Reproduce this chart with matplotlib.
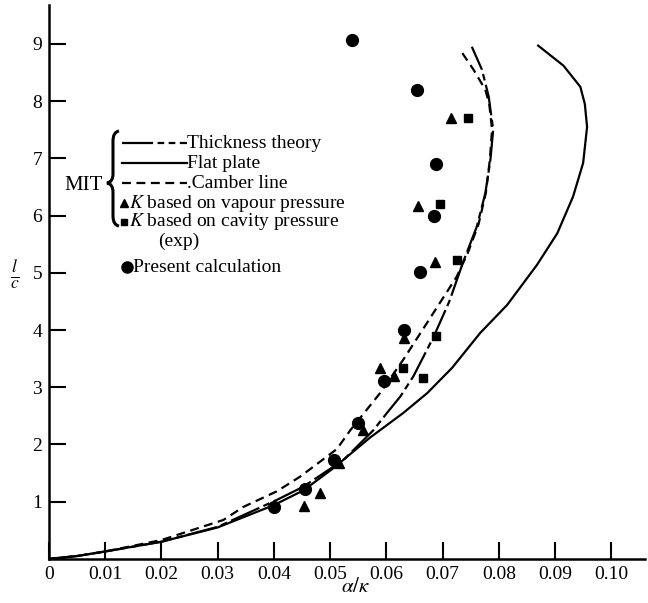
import matplotlib
matplotlib.use("Agg")
import matplotlib.pyplot as plt
from matplotlib.path import Path
from matplotlib.patches import PathPatch

plt.rcParams['font.family'] = ['Liberation Serif', 'DejaVu Serif']
plt.rcParams['mathtext.fontset'] = 'stix'

# MIT flat plate (outer solid curve)
flat_x = [0, 0.005, 0.01, 0.02, 0.03, 0.04, 0.0453, 0.0505, 0.0571, 0.0630, 0.0673,
          0.0717, 0.0767, 0.0815, 0.0868, 0.0904, 0.0932, 0.0950, 0.0957, 0.0953,
          0.0945, 0.0915, 0.0870]
flat_y = [0, 0.05, 0.13, 0.30, 0.55, 0.94, 1.20, 1.58, 2.12, 2.55, 2.90,
          3.34, 3.95, 4.44, 5.14, 5.69, 6.33, 6.92, 7.55, 7.95,
          8.25, 8.62, 8.97]

# MIT thickness theory (inner dash-dot curve)
thick_x = [0, 0.005, 0.01, 0.02, 0.03, 0.0405, 0.0452, 0.0524, 0.0577, 0.0601, 0.0625,
           0.0648, 0.0684, 0.0712, 0.0737, 0.0761, 0.0776, 0.0785, 0.0790, 0.0782,
           0.0770, 0.0752]
thick_y = [0, 0.05, 0.13, 0.30, 0.56, 1.03, 1.26, 1.73, 2.25, 2.55, 2.84,
           3.19, 3.88, 4.50, 5.20, 5.81, 6.39, 6.97, 7.50, 8.08,
           8.55, 8.95]

# MIT camber line (short dashes)
camb_x = [0, 0.005, 0.01, 0.02, 0.031, 0.0346, 0.0405, 0.0447, 0.0470, 0.0512, 0.0536,
          0.0589, 0.0630, 0.0672, 0.0725, 0.0745, 0.0764, 0.0777, 0.0784, 0.0788,
          0.0783, 0.0776, 0.0755, 0.0731]
camb_y = [0, 0.05, 0.13, 0.33, 0.68, 0.91, 1.18, 1.44, 1.61, 1.92, 2.25,
          2.90, 3.48, 4.12, 4.93, 5.35, 5.85, 6.40, 6.97, 7.50,
          7.95, 8.20, 8.55, 8.90]

# K based on vapour pressure (triangles)
vap_x = [0.0454, 0.0482, 0.0515, 0.0559, 0.0589, 0.0613, 0.0632, 0.0686, 0.0656, 0.0715]
vap_y = [0.92, 1.15, 1.68, 2.25, 3.34, 3.20, 3.86, 5.19, 6.16, 7.70]

# K based on cavity pressure (squares)
cav_x = [0.0629, 0.0665, 0.0688, 0.0725, 0.0696, 0.0746]
cav_y = [3.34, 3.17, 3.90, 5.23, 6.20, 7.70]

# present calculation (circles)
calc_x = [0.0401, 0.0456, 0.0506, 0.0550, 0.0595, 0.0632, 0.0660, 0.0684, 0.0688, 0.0654, 0.0539]
calc_y = [0.90, 1.23, 1.73, 2.37, 3.11, 4.00, 5.02, 5.99, 6.90, 8.20, 9.06]

xticks = [0, 0.01, 0.02, 0.03, 0.04, 0.05, 0.06, 0.07, 0.08, 0.09, 0.10]
xticklabels = ['0', '0.01', '0.02', '0.03', '0.04', '0.05', '0.06', '0.07', '0.08', '0.09', '0.10']
yticks = [1, 2, 3, 4, 5, 6, 7, 8, 9]

W, H = 648, 603
fig = plt.figure(figsize=(W / 100, H / 100), dpi=100, facecolor='white')
ax = fig.add_axes([49 / W, (H - 558.9) / H, 596 / W, 553.9 / H])

lw = 1.6
ax.plot(flat_x, flat_y, color='black', lw=lw)
ax.plot(thick_x, thick_y, color='black', lw=lw, dashes=[14, 2, 3, 2])
ax.plot(camb_x, camb_y, color='black', lw=lw, dashes=[4, 2.5])
ax.plot(vap_x, vap_y, '^', color='black', ms=7, mec='black')
ax.plot(cav_x, cav_y, 's', color='black', ms=6, mec='black')
ax.plot(calc_x, calc_y, 'o', color='black', ms=8.5, mec='black')

ax.set_xlim(0, 0.106)
ax.set_ylim(0, 9.68)
ax.spines['top'].set_visible(False)
ax.spines['right'].set_visible(False)
for s in ['left', 'bottom']:
    ax.spines[s].set_linewidth(1.8)
ax.set_xticks(xticks)
ax.set_xticklabels(xticklabels)
ax.set_yticks(yticks)
ax.tick_params(direction='in', length=12, width=1.5, labelsize=14, pad=5)

# axis labels
fig.text(15 / W, 1 - 275 / H, r'$\frac{l}{c}$', fontsize=18, ha='center', va='center')
fig.text(356 / W, 1 - 587 / H, r'$\alpha/\kappa$', fontsize=15, ha='center', va='center')


# hand-drawn key in the upper left
def fx(px):
    return px / W


def fy(py):
    return 1 - py / H


fs = 14
key_lines = [
    (143, [14, 2, 3, 2, 3, 2], 'Thickness theory'),
    (163, None, 'Flat plate'),
    (183, [4, 2.5], '.Camber line'),
]
for py, dash, label in key_lines:
    ln = plt.Line2D([fx(122), fx(187)], [fy(py), fy(py)], transform=fig.transFigure,
                    color='black', lw=lw)
    if dash:
        ln.set_dashes(dash)
    fig.add_artist(ln)
    fig.text(fx(187), fy(py), label, fontsize=fs, va='center', ha='left')

fig.add_artist(plt.Line2D([fx(124)], [fy(203)], transform=fig.transFigure,
                          marker='^', ms=6, color='black', ls='none'))
fig.text(fx(129), fy(203), r'$K$ based on vapour pressure', fontsize=fs, va='center')
fig.add_artist(plt.Line2D([fx(124)], [fy(222)], transform=fig.transFigure,
                          marker='s', ms=5, color='black', ls='none'))
fig.text(fx(129), fy(222), r'$K$ based on cavity pressure', fontsize=fs, va='center')
fig.text(fx(179), fy(241), '(exp)', fontsize=fs, va='center', ha='center')
fig.add_artist(plt.Line2D([fx(127)], [fy(267)], transform=fig.transFigure,
                          marker='o', ms=8, color='black', ls='none'))
fig.text(fx(133), fy(267), 'Present calculation', fontsize=fs, va='center')

fig.text(fx(84), fy(186), 'MIT', fontsize=15, va='center', ha='center')

# curly brace
pts = [(119, 131), (113, 132), (113, 141), (113, 174), (113, 182), (107, 183),
       (113, 184), (113, 192), (113, 216), (113, 225), (119, 226)]
codes = [Path.MOVETO, Path.CURVE3, Path.CURVE3, Path.LINETO, Path.CURVE3, Path.CURVE3,
         Path.CURVE3, Path.CURVE3, Path.LINETO, Path.CURVE3, Path.CURVE3]
brace = Path([(fx(x), fy(y)) for x, y in pts], codes)
fig.add_artist(PathPatch(brace, transform=fig.transFigure, fill=False, lw=2.2,
                         edgecolor='black'))

fig.savefig('out.png', dpi=100)
